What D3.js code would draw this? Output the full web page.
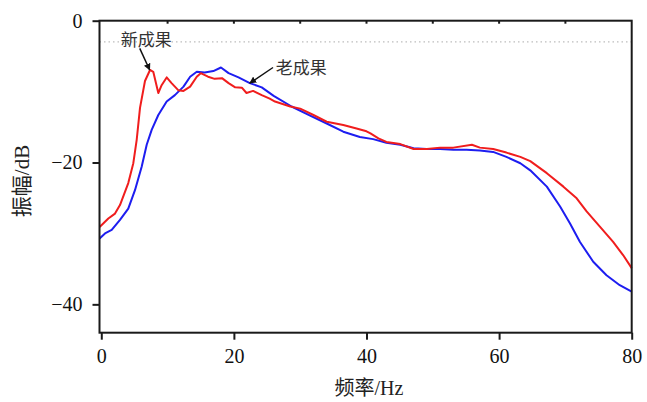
<!DOCTYPE html>
<html><head><meta charset="utf-8">
<script src="https://cdn.jsdelivr.net/npm/d3@7"></script>
<style>
html,body{margin:0;padding:0;background:#fff;}
svg{display:block;}
.serif{font-family:"Liberation Serif","Times New Roman",Times,"DejaVu Serif",serif;}
</style></head>
<body>
<svg id="chart" width="647" height="402"></svg>
<script>
// ---- data (frequency in Hz, amplitude in dB) ----
const newFreq = [-0.25,1.06,2.07,2.82,4.07,4.83,5.34,5.84,6.59,7.35,7.84,8.6,9.1,9.86,10.6,11.6,12.4,13.4,14.4,15.0,16.1,17.1,18.2,19.2,20.2,21.2,21.9,22.9,24.2,25.4,26.2,28.5,30.0,32.0,34.0,36.5,38.5,40.0,40.6,41.8,43.0,45.1,47.1,49.1,51.1,53.1,55.9,57.1,59.1,61.1,63.2,64.7,67.2,69.7,71.7,73.2,75.2,77.2,78.7,80];
const newDb   = [-29.1,-27.9,-27.2,-26.0,-22.9,-20.1,-16.8,-12.3,-8.5,-6.95,-7.2,-10.2,-9.1,-8.0,-8.8,-9.8,-9.9,-9.3,-7.9,-7.4,-7.9,-8.2,-8.1,-8.8,-9.4,-9.45,-10.2,-9.9,-10.5,-11.0,-11.4,-12.1,-12.4,-13.3,-14.25,-14.7,-15.2,-15.6,-15.9,-16.6,-17.1,-17.4,-18.1,-18.1,-17.9,-17.9,-17.5,-17.9,-18.1,-18.6,-19.2,-19.8,-21.5,-23.4,-25.05,-26.9,-29.05,-31.2,-33.05,-34.9];

const oldFreq = [-0.25,0.56,1.57,2.82,4.07,5.08,6.09,6.85,7.6,8.6,9.86,11.1,12.4,13.4,14.4,15.6,16.9,18.05,19.2,20.7,22.4,24.2,26.0,28.7,31.5,34.0,36.5,39.0,41.0,43.0,45.1,47.1,49.1,51.1,53.1,55.1,57.1,59.1,61.1,63.2,64.7,67.2,69.2,70.7,72.2,74.2,76.2,78.2,80];
const oldDb   = [-30.7,-30.0,-29.5,-28.1,-26.5,-23.9,-20.6,-17.5,-15.4,-13.3,-11.4,-10.5,-9.3,-7.9,-7.2,-7.3,-7.1,-6.6,-7.4,-8.0,-8.8,-9.4,-10.6,-12.1,-13.4,-14.5,-15.65,-16.4,-16.7,-17.2,-17.5,-18.0,-18.1,-18.1,-18.2,-18.2,-18.3,-18.5,-19.2,-20.1,-21.1,-23.4,-26.2,-28.6,-31.2,-34.0,-35.9,-37.3,-38.2];

const xTicks = [0,20,40,60,80];
const xMinorTicks = [10,20,30,40,50,60,70];
const yTicks = [0,-20,-40];
const refLevel = -3;   // dotted -3 dB reference line

// annotations
const annoLabels = ["新成果","老成果"];
const annoText  = [[2.93,-3.6],[26.3,-7.45]];
const annoTail  = [[5.8,-3.9],[25.9,-6.6]];
const annoTip   = [[7.3,-6.95],[22.4,-8.8]];

// ---- layout ----
const svg = d3.select("#chart");
const L = 99.5, R = 631.7, T = 20.7, B = 332.7;
const x = d3.scaleLinear().domain([-0.27, 80]).range([L, R]);
const y = d3.scaleLinear().domain([-44, 0]).range([B, T]);

const cjk = '"Noto Sans CJK SC","Noto Sans",sans-serif';

svg.append("rect").attr("width",647).attr("height",402).attr("fill","#fff");

svg.append("line")
  .attr("x1", L).attr("x2", R)
  .attr("y1", y(refLevel)).attr("y2", y(refLevel))
  .attr("stroke", "#bdbdbd").attr("stroke-width", 1.2)
  .attr("stroke-dasharray", "1.5,3");

const xAxis = svg.append("g").attr("transform", `translate(0,${B})`)
  .call(d3.axisBottom(x).tickValues(xTicks).tickSize(7).tickPadding(9).tickFormat(d3.format("d")));
const yAxis = svg.append("g").attr("transform", `translate(${L},0)`)
  .call(d3.axisLeft(y).tickValues(yTicks).tickSize(7).tickPadding(10));
[xAxis, yAxis].forEach(g => {
  g.attr("font-family", null).attr("font-size", null);
  g.select(".domain").remove();
  g.selectAll(".tick line").attr("stroke", "#1a1a1a").attr("stroke-width", 2);
  g.selectAll(".tick text").attr("class", "serif").style("font-size", "20px").attr("fill", "#111");
});
svg.append("g").selectAll("line").data(xMinorTicks).join("line")
  .attr("x1", d => x(d)).attr("x2", d => x(d))
  .attr("y1", T).attr("y2", T + 3)
  .attr("stroke", "#1a1a1a").attr("stroke-width", 2);

const line = d3.line().x(d => x(d[0])).y(d => y(d[1]));
const newData = newFreq.map((f, i) => [f, newDb[i]]);
const oldData = oldFreq.map((f, i) => [f, oldDb[i]]);
svg.append("path").datum(oldData).attr("d", line)
  .attr("fill", "none").attr("stroke", "#1d1df0").attr("stroke-width", 2).attr("stroke-linejoin","round");
svg.append("path").datum(newData).attr("d", line)
  .attr("fill", "none").attr("stroke", "#f01d1d").attr("stroke-width", 2).attr("stroke-linejoin","round");

svg.append("rect").attr("x", L).attr("y", T).attr("width", R - L).attr("height", B - T)
  .attr("fill", "none").attr("stroke", "#1a1a1a").attr("stroke-width", 2);

const xt = svg.append("text").attr("x", 369).attr("y", 395).attr("text-anchor", "middle")
  .style("font-size", "20px").attr("fill", "#222");
xt.append("tspan").style("font-family", cjk).text("频率");
xt.append("tspan").attr("class", "serif").text("/Hz");

const yt = svg.append("text").attr("transform", "translate(29,181) rotate(-90)")
  .attr("text-anchor", "middle").style("font-size", "21px").attr("fill", "#222");
yt.append("tspan").style("font-family", cjk).text("振幅");
yt.append("tspan").attr("class", "serif").text("/dB");

const defs = svg.append("defs");
defs.append("marker").attr("id", "arrow").attr("viewBox", "0 0 10 10")
  .attr("refX", 9).attr("refY", 5).attr("markerWidth", 7).attr("markerHeight", 7)
  .attr("markerUnits", "userSpaceOnUse").attr("orient", "auto")
  .append("path").attr("d", "M0,0 L10,5 L0,10 z").attr("fill", "#111");

annoLabels.forEach((lab, i) => {
  svg.append("text").attr("x", x(annoText[i][0])).attr("y", y(annoText[i][1]))
    .style("font-family", cjk).style("font-size", "17px").attr("fill", "#333").text(lab);
  svg.append("line")
    .attr("x1", x(annoTail[i][0])).attr("y1", y(annoTail[i][1]))
    .attr("x2", x(annoTip[i][0])).attr("y2", y(annoTip[i][1]))
    .attr("stroke", "#111").attr("stroke-width", 1.5).attr("marker-end", "url(#arrow)");
});
</script>
</body></html>
